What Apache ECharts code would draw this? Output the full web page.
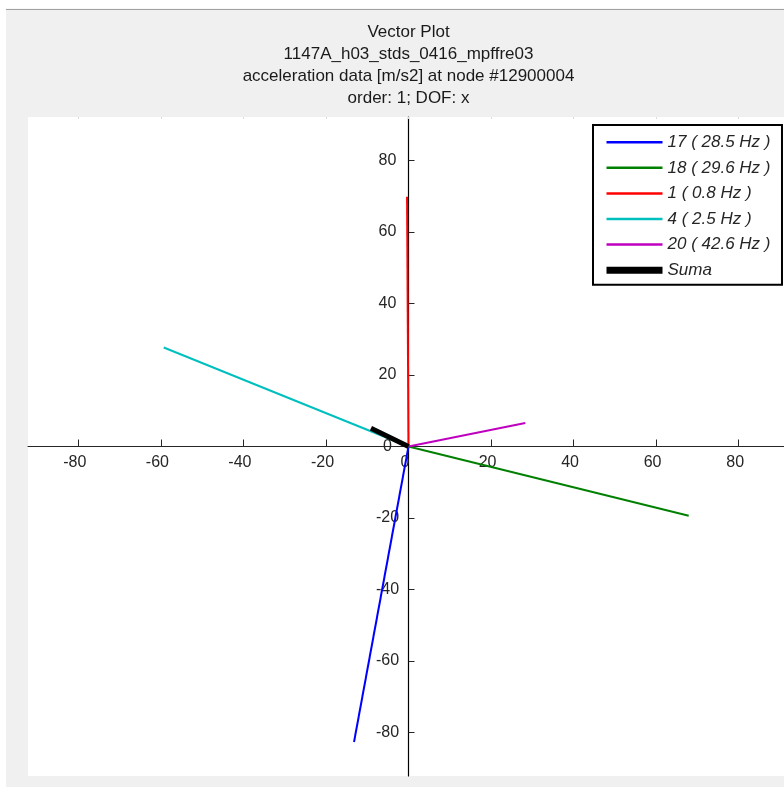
<!DOCTYPE html>
<html><head><meta charset="utf-8">
<script src="https://cdn.jsdelivr.net/npm/echarts@6/dist/echarts.min.js"></script>
<style>html,body{margin:0;padding:0;background:#fff}#c{width:784px;height:787px}</style>
</head><body><div id="c"></div>
<script>
const titleLines = ['Vector Plot', '1147A_h03_stds_0416_mpffre03', 'acceleration data [m/s2] at node #12900004', 'order: 1; DOF: x'];
const seriesNames = ['17 ( 28.5 Hz )', '18 ( 29.6 Hz )', '1 ( 0.8 Hz )', '4 ( 2.5 Hz )', '20 ( 42.6 Hz )', 'Suma'];
const seriesColors = ['#0000ff', '#008000', '#ff0000', '#00bfbf', '#bf00bf', '#000000'];
const vecX = [-13.2, 67.9, -0.35, -59.3, 28.3, -9.1];
const vecY = [-82.7, -19.4, 69.9, 27.7, 6.55, 5.1];
const tickValues = [-80, -60, -40, -20, 0, 20, 40, 60, 80];
const axisMin = -92.2, axisMax = 92.2;

const FONT = 'Liberation Sans, Arial, sans-serif';
const TXT = '#262626';
const GRID = { left: 28, top: 117, width: 761, height: 659 };

const series = seriesNames.map((name, i) => ({
  name: name,
  type: 'line',
  data: [[0, 0], [vecX[i], vecY[i]]],
  symbol: 'none',
  showSymbol: false,
  color: seriesColors[i],
  lineStyle: { color: seriesColors[i], width: name === 'Suma' ? 5 : 2 },
  xAxisIndex: 0,
  yAxisIndex: 0,
  z: 3 + i
}));

const chart = echarts.init(document.getElementById('c'), null, { renderer: 'canvas' });
chart.setOption({
  animation: false,
  backgroundColor: '#f0f0f0',
  graphic: [
    { type: 'rect', shape: { x: 0, y: 0, width: 784, height: 8.5 }, style: { fill: '#ffffff' }, z: -10, silent: true },
    { type: 'rect', shape: { x: 0, y: 0, width: 6, height: 787 }, style: { fill: '#ffffff' }, z: -10, silent: true },
    { type: 'line', shape: { x1: 6, y1: 9.5, x2: 784, y2: 9.5 }, style: { stroke: '#a0a0a0', lineWidth: 1 }, z: -9, silent: true }
  ],
  title: {
    text: titleLines.join('\n'),
    left: 408.5,
    top: 21,
    padding: 0,
    textAlign: 'center',
    textStyle: { fontFamily: FONT, fontSize: 17, fontWeight: 'normal', color: '#1a1a1a', lineHeight: 22 }
  },
  legend: {
    orient: 'vertical',
    left: 593,
    top: 125,
    padding: [8.7, 11.5, 6, 10],
    itemWidth: 56,
    itemHeight: 16,
    itemGap: 8.6,
    backgroundColor: '#ffffff',
    borderColor: '#000000',
    borderWidth: 2,
    borderRadius: 0,
    itemStyle: { color: 'rgba(0,0,0,0)', borderColor: 'rgba(0,0,0,0)', borderWidth: 0 },
    textStyle: { fontFamily: FONT, fontSize: 17, fontStyle: 'italic', color: TXT, lineHeight: 16 },
    data: seriesNames.map((name) => ({
      name: name,
      lineStyle: { width: name === 'Suma' ? 7 : 2.5 }
    }))
  },
  grid: {
    left: GRID.left, top: GRID.top, width: GRID.width, height: GRID.height,
    outerBoundsMode: 'none', containLabel: false,
    show: true, backgroundColor: '#ffffff', borderWidth: 0
  },
  xAxis: [
    {
      type: 'value', min: axisMin, max: axisMax,
      position: 'bottom',
      offset: -GRID.height / 2,
      axisLine: { show: true, onZero: false, lineStyle: { color: TXT, width: 1 } },
      axisTick: { show: true, inside: true, length: 7, customValues: tickValues, lineStyle: { color: TXT } },
      axisLabel: { show: true, customValues: tickValues, color: TXT, fontFamily: FONT, fontSize: 16, margin: 8, padding: [0, 7, 0, 0] },
      splitLine: { show: false }
    },
    {
      type: 'value', position: 'top', min: axisMin, max: axisMax,
      axisLine: { show: false, onZero: false },
      axisTick: { show: true, inside: true, length: 2, customValues: tickValues, lineStyle: { color: '#dcdcdc' } },
      axisLabel: { show: false },
      splitLine: { show: false }
    }
  ],
  yAxis: {
    type: 'value', min: axisMin, max: axisMax,
    position: 'left',
    offset: -GRID.width / 2,
    axisLine: { show: true, onZero: false, lineStyle: { color: '#000000', width: 1.2 } },
    axisTick: { show: true, inside: true, length: 6, customValues: tickValues, lineStyle: { color: TXT } },
    axisLabel: { show: true, customValues: tickValues, color: TXT, fontFamily: FONT, fontSize: 16, margin: 21, align: 'center', verticalAlign: 'middle' },
    splitLine: { show: false }
  },
  series: series
});
</script>
</body></html>
